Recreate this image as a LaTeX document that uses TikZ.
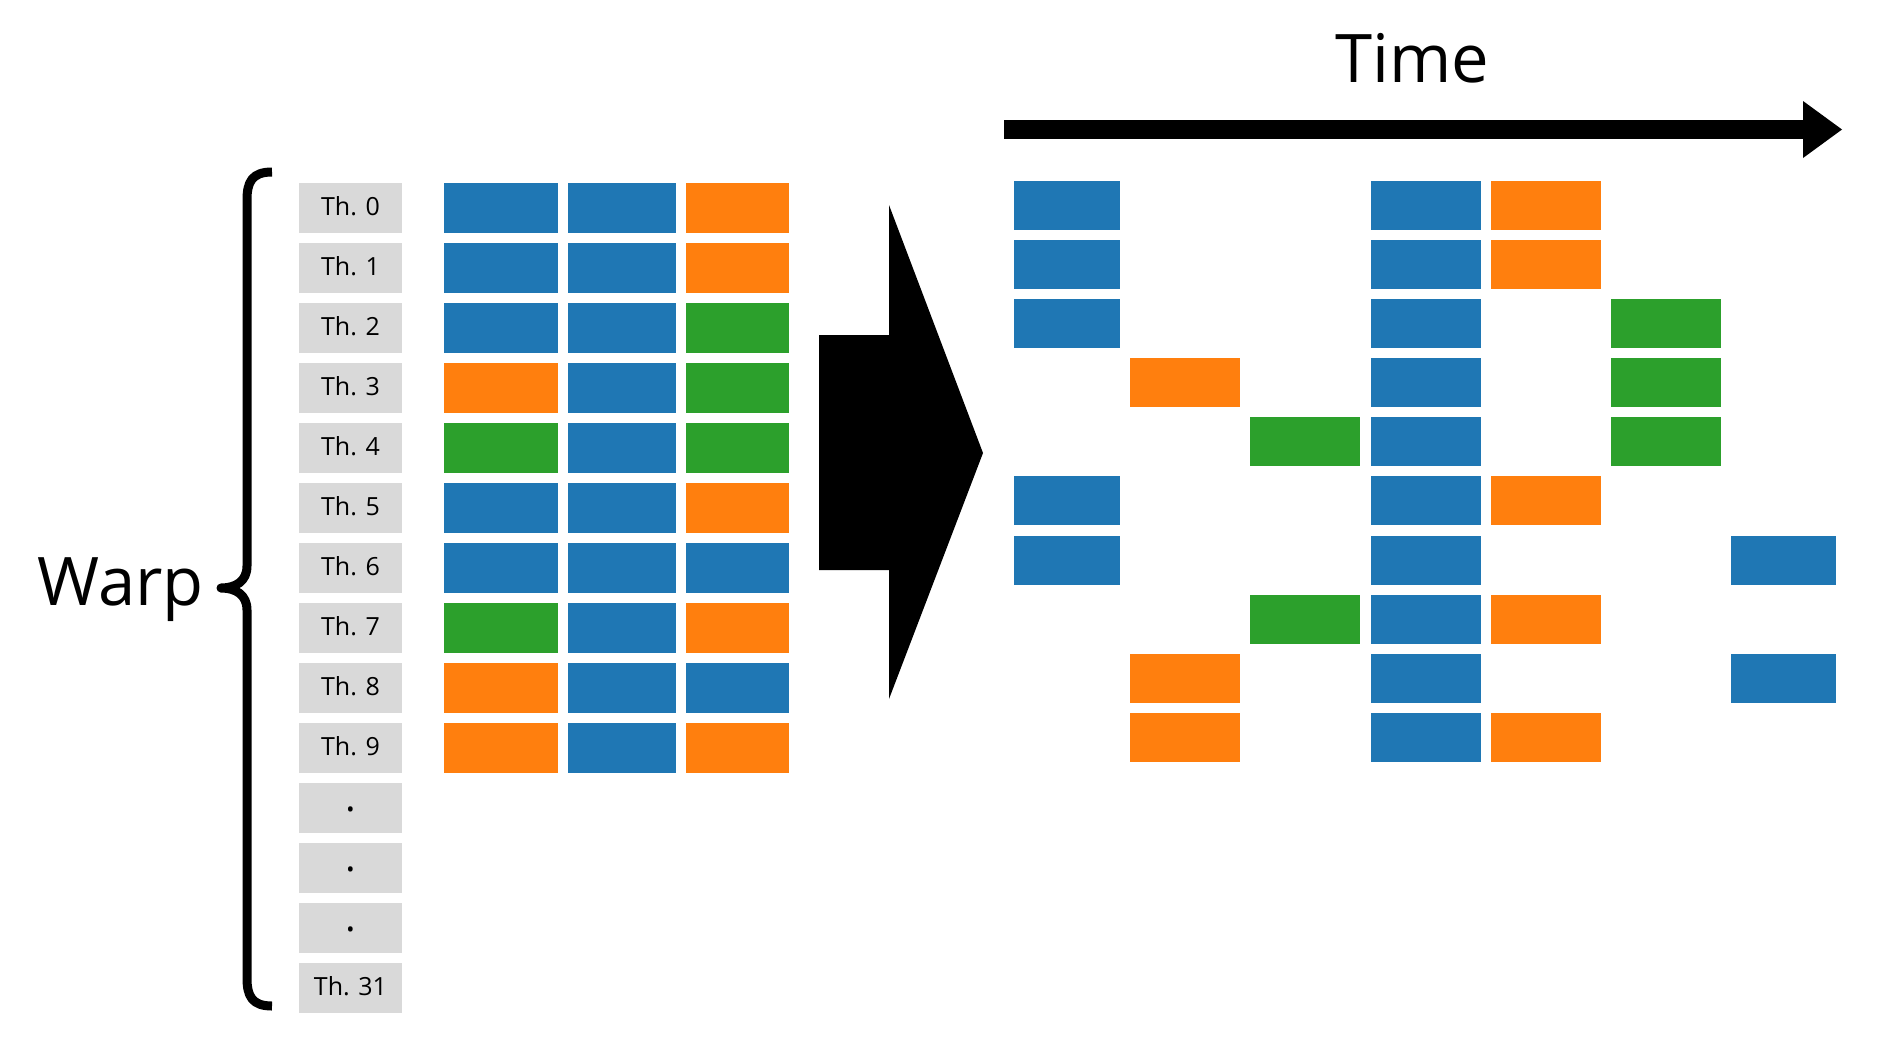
\documentclass[tikz,border=0pt]{standalone}
\usepackage{fontspec}
\setmainfont{Open Sans}
\usepackage{tikz}
\usetikzlibrary{arrows.meta,positioning}

\definecolor{cblue}{HTML}{1F77B4}
\definecolor{corange}{HTML}{FF7F0E}
\definecolor{cgreen}{HTML}{2CA02C}
\definecolor{lblgray}{HTML}{D9D9D9}

\tikzset{
    lbl/.style={fill=lblgray, minimum width=103pt, minimum height=50pt, inner sep=0pt, text height=16pt, text depth=2pt, font=\fontsize{25pt}{30pt}\selectfont},
    dotbox/.style={lbl, text height=7pt, text depth=0pt, font=\fontsize{40pt}{40pt}\selectfont},
    job/.style={fill=#1, minimum height=50pt, inner sep=0pt},
    w1/.style={minimum width=114pt},
    w2/.style={minimum width=108pt},
    w3/.style={minimum width=103pt},
    slot/.style={fill=#1, minimum width=110pt, minimum height=49pt, inner sep=0pt},
    big/.style={font=\fontsize{67pt}{72pt}\selectfont, inner sep=0pt}
}

\begin{document}
\begin{tikzpicture}[x=1pt, y=-1pt, node distance=60pt, on grid, auto]
            \useasboundingbox (0,0) rectangle (1889,1063);
            % threads of the warp
            \node[lbl] (t0) at (350.5,208) {Th. 0};
            \node[lbl, below of = t0] (t1) {Th. 1};
            \node[lbl, below of = t1] (t2) {Th. 2};
            \node[lbl, below of = t2] (t3) {Th. 3};
            \node[lbl, below of = t3] (t4) {Th. 4};
            \node[lbl, below of = t4] (t5) {Th. 5};
            \node[lbl, below of = t5] (t6) {Th. 6};
            \node[lbl, below of = t6] (t7) {Th. 7};
            \node[lbl, below of = t7] (t8) {Th. 8};
            \node[lbl, below of = t8] (t9) {Th. 9};
            \node[dotbox, below of = t9] (d1) {.};
            \node[dotbox, below of = d1] (d2) {.};
            \node[dotbox, below of = d2] (d3) {.};
            \node[lbl, below of = d3] (t31) {Th. 31};
            \draw[line width=9pt, line join=round] (272,172) .. controls (252,172) and (247,182) .. (247,200) -- (247,566)
                .. controls (247,581) and (236,588) .. (221,588) .. controls (236,588) and (247,595) .. (247,610)
                -- (247,978) .. controls (247,996) and (252,1006) .. (272,1006);
            \node[big, anchor=base east] (warp) at (204,605) {Warp};
            % instructions per thread
            \node[job=cblue, w1, right=150.5pt of t0] (a0) {}; \node[job=cblue, w2, right=121pt of a0] (b0) {}; \node[job=corange, w3, right=115.5pt of b0] (c0) {};
            \node[job=cblue, w1, right=150.5pt of t1] (a1) {}; \node[job=cblue, w2, right=121pt of a1] (b1) {}; \node[job=corange, w3, right=115.5pt of b1] (c1) {};
            \node[job=cblue, w1, right=150.5pt of t2] (a2) {}; \node[job=cblue, w2, right=121pt of a2] (b2) {}; \node[job=cgreen, w3, right=115.5pt of b2] (c2) {};
            \node[job=corange, w1, right=150.5pt of t3] (a3) {}; \node[job=cblue, w2, right=121pt of a3] (b3) {}; \node[job=cgreen, w3, right=115.5pt of b3] (c3) {};
            \node[job=cgreen, w1, right=150.5pt of t4] (a4) {}; \node[job=cblue, w2, right=121pt of a4] (b4) {}; \node[job=cgreen, w3, right=115.5pt of b4] (c4) {};
            \node[job=cblue, w1, right=150.5pt of t5] (a5) {}; \node[job=cblue, w2, right=121pt of a5] (b5) {}; \node[job=corange, w3, right=115.5pt of b5] (c5) {};
            \node[job=cblue, w1, right=150.5pt of t6] (a6) {}; \node[job=cblue, w2, right=121pt of a6] (b6) {}; \node[job=cblue, w3, right=115.5pt of b6] (c6) {};
            \node[job=cgreen, w1, right=150.5pt of t7] (a7) {}; \node[job=cblue, w2, right=121pt of a7] (b7) {}; \node[job=corange, w3, right=115.5pt of b7] (c7) {};
            \node[job=corange, w1, right=150.5pt of t8] (a8) {}; \node[job=cblue, w2, right=121pt of a8] (b8) {}; \node[job=cblue, w3, right=115.5pt of b8] (c8) {};
            \node[job=corange, w1, right=150.5pt of t9] (a9) {}; \node[job=cblue, w2, right=121pt of a9] (b9) {}; \node[job=corange, w3, right=115.5pt of b9] (c9) {};
            % big arrow
            \fill (819,335) -- (889,335) -- (889,205) -- (983,453) -- (889,699) -- (889,570) -- (819,570) -- cycle;
            % time axis
            \node[big, anchor=base] (time) at (1412,82) {Time};
            \coordinate (tstart) at (1004,129.5);
            \coordinate (tend) at (1842,129.5);
            \draw[line width=19pt, -{Triangle[length=39pt, width=57pt, line width=0pt]}] (tstart) -- (tend);
            % serialised schedule
            \node[slot=cblue, minimum width=106pt] (s0a) at (1067,205) {}; \node[slot=cblue] (s0d) at (1425.5,205) {}; \node[slot=corange] (s0e) at (1546,205) {};
            \node[slot=cblue, minimum width=106pt] (s1a) at (1067,264) {}; \node[slot=cblue] (s1d) at (1425.5,264) {}; \node[slot=corange] (s1e) at (1546,264) {};
            \node[slot=cblue, minimum width=106pt] (s2a) at (1067,323) {}; \node[slot=cblue] (s2d) at (1425.5,323) {}; \node[slot=cgreen] (s2f) at (1666,323) {};
            \node[slot=corange] (s3b) at (1185,382) {}; \node[slot=cblue] (s3d) at (1425.5,382) {}; \node[slot=cgreen] (s3f) at (1666,382) {};
            \node[slot=cgreen] (s4c) at (1305,441) {}; \node[slot=cblue] (s4d) at (1425.5,441) {}; \node[slot=cgreen] (s4f) at (1666,441) {};
            \node[slot=cblue, minimum width=106pt] (s5a) at (1067,500) {}; \node[slot=cblue] (s5d) at (1425.5,500) {}; \node[slot=corange] (s5e) at (1546,500) {};
            \node[slot=cblue, minimum width=106pt] (s6a) at (1067,560) {}; \node[slot=cblue] (s6d) at (1425.5,560) {}; \node[slot=cblue, minimum width=105pt] (s6g) at (1783.5,560) {};
            \node[slot=cgreen] (s7c) at (1305,619) {}; \node[slot=cblue] (s7d) at (1425.5,619) {}; \node[slot=corange] (s7e) at (1546,619) {};
            \node[slot=corange] (s8b) at (1185,678) {}; \node[slot=cblue] (s8d) at (1425.5,678) {}; \node[slot=cblue, minimum width=105pt] (s8g) at (1783.5,678) {};
            \node[slot=corange] (s9b) at (1185,737) {}; \node[slot=cblue] (s9d) at (1425.5,737) {}; \node[slot=corange] (s9e) at (1546,737) {};
        \end{tikzpicture}
\end{document}
